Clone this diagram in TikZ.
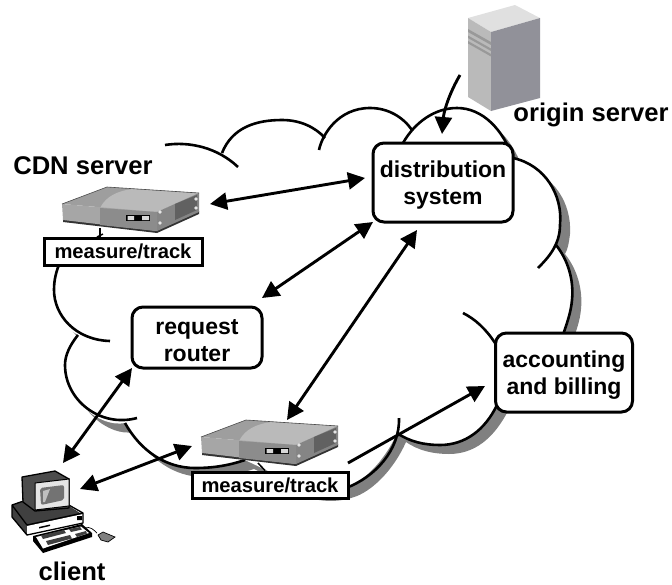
\documentclass[tikz,border=0pt]{standalone}
\usepackage{fontspec}
\setmainfont{Liberation Sans}
\usetikzlibrary{arrows.meta}
\tikzset{
  arc line/.style={line width=2.6pt,line cap=butt},
  round box/.style={draw,line width=3pt,rounded corners=11pt,fill=white,align=center,font=\fontsize{23}{27}\selectfont\bfseries,inner sep=0pt},
  tag box/.style={draw,line width=3pt,fill=white,inner sep=0pt,font=\fontsize{20.2}{24}\selectfont\bfseries},
  big label/.style={font=\fontsize{25.6}{30}\selectfont\bfseries,inner sep=0pt},
  link/.style={line width=2.9pt,{Triangle[length=17pt,width=17pt]}-{Triangle[length=17pt,width=17pt]}},
  one way/.style={line width=2.9pt,-{Triangle[length=17pt,width=17pt]}}
}
\newcommand{\cloudoutline}{
  (165,145) .. controls (190,141) and (208,146) .. (222,153)
  .. controls (232,128) and (255,120) .. (282,120)
  .. controls (300,120) and (312,125) .. (325,135)
  .. controls (335,118) and (350,108) .. (370,108)
  .. controls (385,108) and (400,115) .. (412,128)
  .. controls (422,116) and (438,108) .. (457,108)
  .. controls (483,108) and (503,130) .. (513,158)
  .. controls (545,165) and (563,195) .. (561,225)
  .. controls (560,233) and (559,240) .. (556,245)
  .. controls (568,260) and (574,280) .. (572,300)
  .. controls (571,312) and (567,323) .. (563,333)
  -- (500,400)
  .. controls (485,430) and (465,445) .. (440,445)
  .. controls (425,445) and (410,442) .. (397,433)
  .. controls (385,460) and (365,480) .. (348,487)
  .. controls (335,492) and (322,493) .. (310,491)
  -- (245,460)
  .. controls (230,465) and (215,468) .. (195,468)
  .. controls (165,468) and (140,450) .. (125,423)
  .. controls (100,428) and (65,400) .. (65,365)
  .. controls (65,355) and (70,345) .. (78,335)
  .. controls (60,325) and (54,305) .. (54,290)
  .. controls (54,280) and (56,272) .. (60,265)
  -- (100,200) -- cycle
}
\newcommand{\servericon}[2]{
  \begin{scope}[shift={(#1,#2)}]
    \fill[black!80] (63,222) -- (157,233) -- (199,214) -- (199,211) -- (157,229) -- (63,218) -- cycle;
    \fill[black!38] (62,204) -- (107,187) -- (199,193) -- (157,212) -- cycle;
    \fill[black!27] (100,208) .. controls (106,196) and (118,191) .. (132,189) -- (199,193) -- (157,212) -- cycle;
    \fill[black!35] (62,204) -- (157,212) -- (157,231) -- (63,220) -- cycle;
    \fill[black!45] (100,208) -- (157,212) -- (157,231) -- (100,225) -- cycle;
    \fill[black!48] (157,212) -- (199,193) -- (199,212) -- (157,231) -- cycle;
    \fill[black!62] (175,204) -- (197,195) -- (197,210) -- (175,220) -- cycle;
    \draw[black!70,line width=.6pt] (62,204) -- (107,187) -- (199,193);
    \fill[black!10] (160,212) circle (1.8pt) (160,223) circle (1.8pt) (196,199) circle (1.8pt) (196,208) circle (1.8pt);
    \fill[black] (126,215) rectangle (150,221);
    \fill[black!15] (127.5,216) rectangle (134,220) (142,216) rectangle (149,220);
  \end{scope}
}
\begin{document}
\begin{tikzpicture}[x=1pt,y=-1pt]
\useasboundingbox (0,0) rectangle (672,584);
% cloud body
\fill[black!50,shift={(9,9)}] \cloudoutline;
\fill[white] \cloudoutline;
% cloud arcs
\draw[arc line] (165,145) .. controls (190,141) and (218,148) .. (238,167);
\draw[arc line] (222,153) .. controls (232,128) and (255,120) .. (282,120) .. controls (300,120) and (315,127) .. (325,138);
\draw[arc line] (319,150) .. controls (322,135) and (338,108) .. (370,108) .. controls (388,108) and (403,117) .. (412,130);
\draw[arc line] (403,143) .. controls (415,122) and (435,108) .. (457,108) .. controls (483,108) and (503,130) .. (513,158);
\draw[arc line] (513,158) .. controls (545,165) and (563,195) .. (560,225) .. controls (560,245) and (548,258) .. (538,268);
\draw[arc line] (556,245) .. controls (568,260) and (574,280) .. (572,300) .. controls (571,312) and (567,323) .. (563,335);
\draw[arc line] (463,313) .. controls (475,319) and (486,329) .. (495,343);
\draw[arc line] (397,433) .. controls (410,442) and (425,445) .. (440,445) .. controls (465,445) and (485,430) .. (497,405);
\draw[arc line] (399,418) .. controls (400,450) and (375,477) .. (346,488);
\draw[arc line] (125,423) .. controls (140,450) and (165,468) .. (195,468) .. controls (215,468) and (230,465) .. (245,460);
\draw[arc line] (137,418) .. controls (100,428) and (65,400) .. (65,365) .. controls (65,355) and (70,345) .. (78,335);
\draw[arc line] (110,341) .. controls (75,340) and (54,315) .. (54,290) .. controls (54,280) and (56,272) .. (60,262);

% origin server icon
\fill[black!12] (468,18) -- (515,5) -- (540,18) -- (491,32) -- cycle;
\fill[black!27] (468,18) -- (491,32) -- (491,111) -- (468,97) -- cycle;
\fill[black!52!blue!8!gray!80] (491,32) -- (540,18) -- (540,98) -- (491,111) -- cycle;
\fill[gray!80] (468,29) -- (491,42) -- (491,45) -- (468,32) -- cycle
               (468,35.5) -- (491,48.5) -- (491,51) -- (468,38) -- cycle
               (468,41) -- (491,54) -- (491,56.5) -- (468,43.5) -- cycle;

% CDN server icons
\servericon{0}{0}
\servericon{139}{233}

% client icon
\begin{scope}
  \fill[black!75] (12,505) -- (35,497) -- (60,500) -- (80,513) -- (83,513) -- (83,523) -- (27,535) -- (12,517) -- cycle;
  \fill[white] (27,526) -- (83,514) -- (83,523) -- (27,535) -- cycle;
  \draw[black,line width=1.3pt,line join=round] (12,505) -- (35,497) -- (60,500) -- (83,513) -- (83,523) -- (27,535) -- (12,517) -- cycle (12,505) -- (27,525) -- (83,513);
  \fill[black] (77,516) rectangle (82,520) (39,527) -- (50,524.5) -- (50,526) -- (39,528.5) -- cycle;
  \fill[black!70] (22,477) -- (55,471) -- (69,479) -- (69,508) -- (35,511) -- (23,502) -- cycle;
  \draw[black,line width=1.3pt,line join=round] (22,477) -- (55,471) -- (69,479) -- (69,508) -- (35,511) -- (23,502) -- cycle;
  \fill[black!10] (35,483) -- (69,479) -- (69,506) -- (35,510) -- cycle;
  \draw[black,line width=1pt] (35,483) -- (69,479) -- (69,506) -- (35,510) -- cycle;
  \fill[black!55,rounded corners=2pt] (40,488) -- (64,485) -- (64,500) -- (41,505) -- cycle;
  \fill[black!25] (43,491) -- (50,489) -- (45,502) -- (43,502) -- cycle;
  % keyboard
  \fill[black] (33,536) -- (82,524) -- (92,533) -- (92,537) -- (43,553) -- (33,541) -- cycle;
  \fill[white] (36,537) -- (81,526.5) -- (89,533) -- (43,548.5) -- cycle;
  \fill[black!75] (41,535.5) -- (64,530) -- (66,533) -- (43,539) -- cycle
                  (46,541) -- (70,535) -- (72,538.5) -- (48,545) -- cycle
                  (69,529) -- (80,527) -- (82,529.5) -- (71,532) -- cycle
                  (75,534) -- (86,531) -- (87,533.5) -- (77,537) -- cycle;
  \draw[black,line width=.7pt] (85,528) .. controls (90,526) and (94,530) .. (97,533);
  \fill[black!50] (98,535) -- (103,532) -- (115,537) -- (108,542) -- (101,540) -- cycle;
  \draw[black,line width=.7pt] (98,535) -- (103,532) -- (115,537) -- (108,542) -- (101,540) -- cycle;
\end{scope}

% nodes
\node[round box,minimum width=140pt,minimum height=79pt] (dist) at (443,182.5) {\rule{0pt}{22pt}distribution\\system};
\node[round box,minimum width=130pt,minimum height=61pt] (router) at (197,337.5) {\rule{0pt}{22pt}request\\router};
\node[round box,minimum width=137pt,minimum height=79pt] (acct) at (564,372.5) {\rule{0pt}{22pt}accounting\\and billing};
\node[tag box,minimum width=158pt,minimum height=27pt] (tagA) at (123,251.5) {measure/track};
\node[tag box,minimum width=156pt,minimum height=26pt] (tagB) at (270,485) {measure/track};
\node[big label,anchor=center] (cdn) at (83,166) {CDN server};
\node[big label,anchor=center] (origin) at (591,115) {origin server};
\node[big label,anchor=center] (client) at (72,571) {client};

% icon anchor points
\coordinate (srvAfoot) at (100,228);
\coordinate (srvBfoot) at (258,463);
\draw[line width=1.5pt] (srvAfoot) -- (100,236.5);
\draw[line width=1.5pt] (103,234) -- (97,237);
\draw[line width=1.5pt] (srvBfoot) -- (265,470.5);

% connector ends
\coordinate (srvAright) at (210,204);
\coordinate (distL) at (365,178);
\coordinate (routerT) at (262,298);
\coordinate (distSW) at (373,222);
\coordinate (distB) at (417,230);
\coordinate (srvBtop) at (287,420);
\coordinate (routerSW) at (132,368);
\coordinate (clientT) at (63,463);
\coordinate (clientR) at (80,489);
\coordinate (srvBleft) at (192,446);
\coordinate (tagBnear) at (348,463);
\coordinate (acctL) at (485,386);
\coordinate (originL) at (460,75);
\coordinate (distT) at (442,134);

\draw[link] (srvAright) -- (distL);
\draw[link] (routerT) -- (distSW);
\draw[link] (distB) -- (srvBtop);
\draw[link] (routerSW) -- (clientT);
\draw[link] (clientR) -- (srvBleft);
\draw[one way] (tagBnear) -- (acctL);
\draw[one way] (originL) .. controls (450,92) and (444,110) .. (distT);
\end{tikzpicture}
\end{document}
